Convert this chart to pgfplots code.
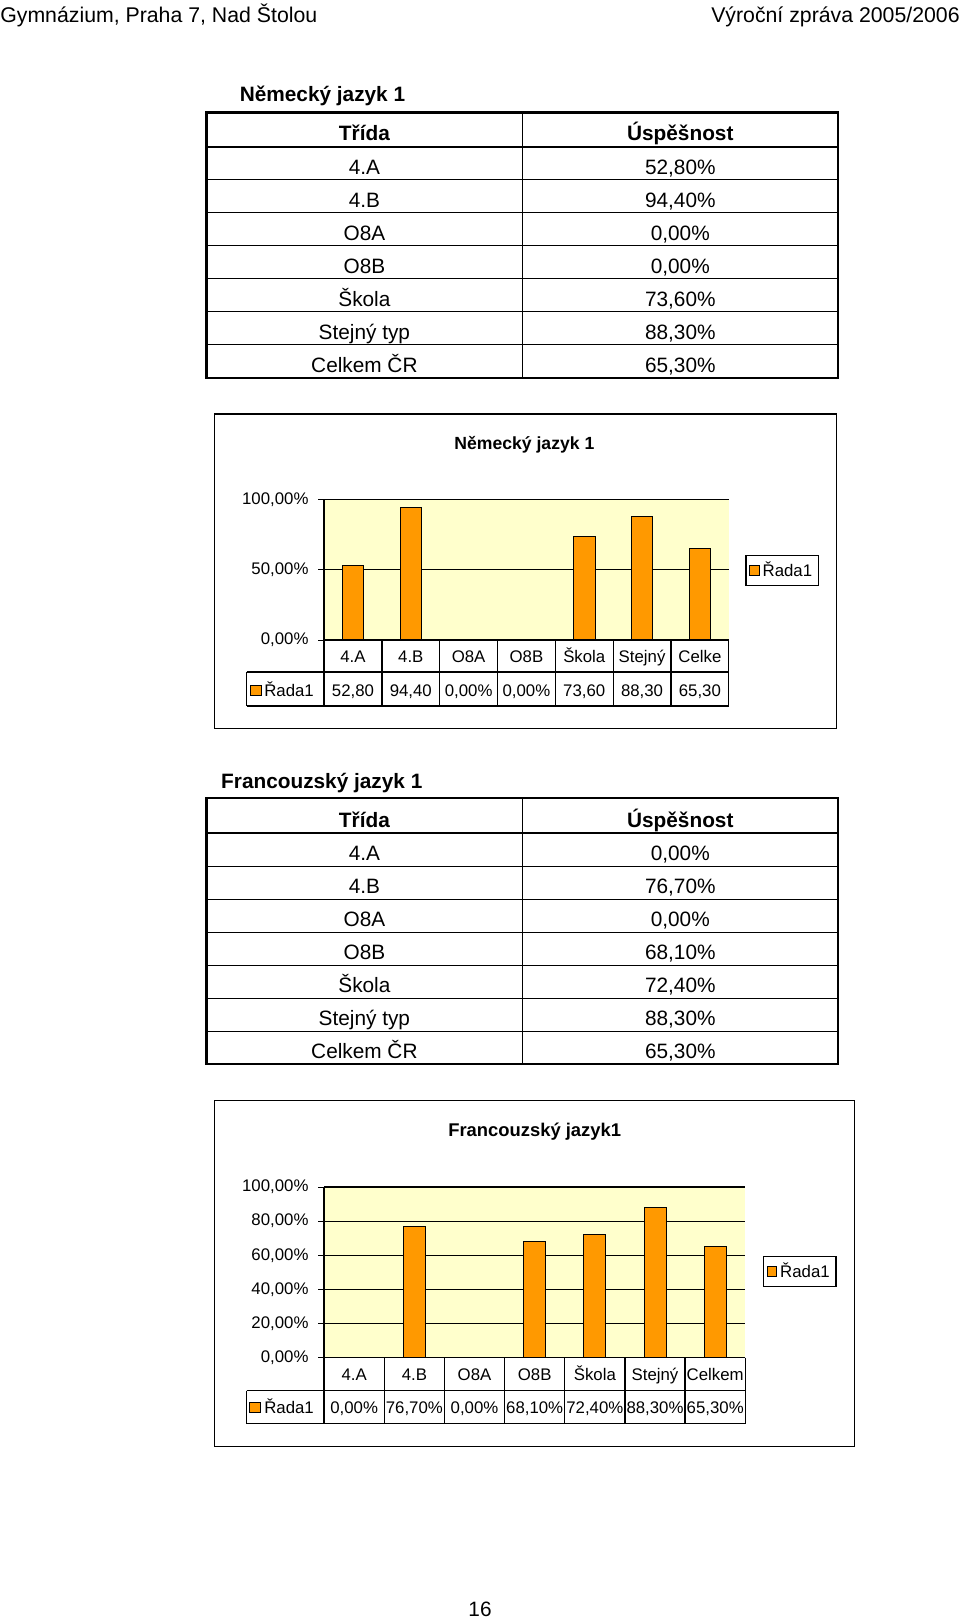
\documentclass[border=0pt]{standalone}
\usepackage{pgfplots}
\pgfplotsset{compat=1.18}
\usepackage{fontspec}
\setmainfont{Liberation Sans}
\definecolor{barorange}{HTML}{FF9900}
\definecolor{plotbg}{HTML}{FFFFCC}
\newcommand{\tabfont}{\fontsize{13}{15}\selectfont}
\newcommand{\chfont}{\fontsize{10.5}{12}\selectfont}
\pgfplotsset{
  chartstyle/.style={
    anchor=south west,
    scale only axis,
    xmin=-0.5, xmax=6.5, ymin=0, ymax=100,
    axis x line*=bottom, axis y line*=left,
    axis line style={-, black, line width=0.8pt},
    ytick style={black, line width=0.6pt},
    ytick align=outside, xtick align=inside, major tick length=3.75pt,
    yticklabel style={xshift=-2.5pt},
    xtick={0,...,6},
    xtick style={draw=none},
    tick label style={font=\chfont},
    legend style={anchor=west, draw=black, line width=0.8pt, font=\chfont, inner sep=2pt},
    legend image code/.code={\draw[fill=barorange, draw=black, line width=0.4pt] (0pt,-3pt) rectangle (6pt,3pt);},
    clip=false,
  }
}
\begin{document}
\begin{tikzpicture}
\begin{scope}[x=0.625pt,y=-0.625pt]
\useasboundingbox (0,0) rectangle (960,1619);

% page header
\node[anchor=base west, inner sep=0, font=\fontsize{13.3}{15}\selectfont] at (0,22.7) {Gymnázium, Praha 7, Nad Štolou};
\node[anchor=base east, inner sep=0, font=\fontsize{13.3}{15}\selectfont] at (960,22.7) {Výroční zpráva 2005/2006};

% ---------- Table 1 ----------
\node[anchor=base west, inner sep=0, font=\bfseries\fontsize{13}{15}\selectfont] at (239.5,101.4) {Německý jazyk 1};
\foreach \y in {179.6,212.6,245.6,278.6,311.6,344.6}
  \draw[line width=0.6pt] (206.5,\y) -- (838.2,\y);
\draw[line width=0.6pt] (522.3,112.5) -- (522.3,377.6);
\draw[line width=1.3pt] (206.5,146.6) -- (838.2,146.6);
\draw[line width=1.3pt] (206.5,112.5) rectangle (838.2,377.6);
\node[anchor=base, inner sep=0, font=\bfseries\tabfont] at (364.4,140.6) {Třída};
\node[anchor=base, inner sep=0, font=\bfseries\tabfont] at (680.3,140.6) {Úspěšnost};
\foreach \a/\b [count=\i from 0] in {4.A/{52,80\%},4.B/{94,40\%},O8A/{0,00\%},O8B/{0,00\%},Škola/{73,60\%},Stejný typ/{88,30\%},Celkem ČR/{65,30\%}}{
  \node[anchor=base, inner sep=0, font=\tabfont] at (364.4,{179.6+33*\i-5.5}) {\a};
  \node[anchor=base, inner sep=0, font=\tabfont] at (680.3,{179.6+33*\i-5.5}) {\b};
}

% ---------- Chart 1 frame, title, plot area ----------
\draw[line width=0.8pt, black] (214.7,414) rectangle (836.2,728.8);
\node[font=\bfseries\fontsize{11}{13}\selectfont] at (524.4,445) {Německý jazyk 1};
\fill[plotbg] (324.1,499.6) rectangle (728.8,640);

% ---------- Table 2 ----------
\node[anchor=base west, inner sep=0, font=\bfseries\fontsize{13}{15}\selectfont] at (220.9,788) {Francouzský jazyk 1};
\foreach \y in {866.1,899.1,932.1,965.1,998.1,1031.1}
  \draw[line width=0.6pt] (206.5,\y) -- (838.2,\y);
\draw[line width=0.6pt] (522.3,798) -- (522.3,1064.1);
\draw[line width=1.3pt] (206.5,833.1) -- (838.2,833.1);
\draw[line width=1.3pt] (206.5,798) rectangle (838.2,1064.1);
\node[anchor=base, inner sep=0, font=\bfseries\tabfont] at (364.4,827.1) {Třída};
\node[anchor=base, inner sep=0, font=\bfseries\tabfont] at (680.3,827.1) {Úspěšnost};
\foreach \a/\b [count=\i from 0] in {4.A/{0,00\%},4.B/{76,70\%},O8A/{0,00\%},O8B/{68,10\%},Škola/{72,40\%},Stejný typ/{88,30\%},Celkem ČR/{65,30\%}}{
  \node[anchor=base, inner sep=0, font=\tabfont] at (364.4,{866.1+33*\i-5.5}) {\a};
  \node[anchor=base, inner sep=0, font=\tabfont] at (680.3,{866.1+33*\i-5.5}) {\b};
}

% ---------- Chart 2 frame, title, plot area ----------
\draw[line width=0.8pt, black] (214.7,1100.4) rectangle (854.7,1446.3);
\node[font=\bfseries\fontsize{11.5}{13}\selectfont] at (534.7,1131.4) {Francouzský jazyk1};
\fill[plotbg] (324.1,1187.1) rectangle (745.3,1357.5);

% page number
\node[anchor=base, inner sep=0, font=\tabfont] at (480,1616) {16};
\end{scope}

% ---------- Chart 1 axis ----------
\begin{axis}[chartstyle,
  at={(202.5625pt,-400pt)},
  width=252.94pt, height=87.75pt,
  ytick={0,50,100}, yticklabels={{0,00\%},{50,00\%},{100,00\%}},
  xticklabels={4.A,4.B,O8A,O8B,Škola,Stejný,Celke},
  xticklabel style={anchor=base, yshift=-14.3pt, inner sep=0pt},
  legend style={at={(1.041,0.496)}},
]
\addplot[black, line width=0.8pt, sharp plot, mark=none, forget plot] coordinates {(-0.5,50) (6.5,50)};
\addplot[black, line width=0.8pt, sharp plot, mark=none, forget plot] coordinates {(-0.5,100) (6.5,100)};
\addplot[ybar, bar width=13.4pt, fill=barorange, draw=black, line width=0.6pt] coordinates {(0,52.8) (1,94.4) (2,0) (3,0) (4,73.6) (5,88.3) (6,65.3)};
\legend{Řada1}
\end{axis}

% ---------- Chart 2 axis ----------
\begin{axis}[chartstyle,
  at={(202.5625pt,-848.4375pt)},
  width=263.25pt, height=106.5pt,
  ytick={0,20,40,60,80,100}, yticklabels={{0,00\%},{20,00\%},{40,00\%},{60,00\%},{80,00\%},{100,00\%}},
  xticklabels={4.A,4.B,O8A,O8B,Škola,Stejný,Celkem},
  xticklabel style={anchor=base, yshift=-14.5pt, inner sep=0pt},
  legend style={at={(1.0418,0.506)}},
]
\addplot[black, line width=0.8pt, sharp plot, mark=none, forget plot] coordinates {(-0.5,20) (6.5,20)};
\addplot[black, line width=0.8pt, sharp plot, mark=none, forget plot] coordinates {(-0.5,40) (6.5,40)};
\addplot[black, line width=0.8pt, sharp plot, mark=none, forget plot] coordinates {(-0.5,60) (6.5,60)};
\addplot[black, line width=0.8pt, sharp plot, mark=none, forget plot] coordinates {(-0.5,80) (6.5,80)};
\addplot[black, line width=0.8pt, sharp plot, mark=none, forget plot] coordinates {(-0.5,100) (6.5,100)};
\addplot[ybar, bar width=13.8pt, fill=barorange, draw=black, line width=0.6pt] coordinates {(0,0) (1,76.7) (2,0) (3,68.1) (4,72.4) (5,88.3) (6,65.3)};
\legend{Řada1}
\end{axis}

\begin{scope}[x=0.625pt,y=-0.625pt]
% chart 1 grid lines (segments between bars)
\draw[line width=0.8pt] (324.1,499.6) -- (728.8,499.6);
\foreach \a/\b in {324.1/342.3,363.7/400.1,421.5/573.5,594.9/631.4,652.8/689.2,710.6/728.8}
  \draw[line width=0.8pt] (\a,569.8) -- (\b,569.8);
% chart 1 data table
\draw[line width=0.8pt] (324.1,640) -- (728.8,640);
\draw[line width=0.8pt] (246.7,672) -- (728.8,672);
\draw[line width=0.8pt] (246.7,706) -- (728.8,706);
\draw[line width=0.8pt] (246.7,672) -- (246.7,706);
\draw[line width=0.8pt] (324.1,640) -- (324.1,706);
\foreach \k in {1,...,7}
  \draw[line width=0.8pt] ({324.1+57.81*\k},640) -- ({324.1+57.81*\k},706);
\draw[fill=barorange, draw=black, line width=0.4pt] (250.8,685.5) rectangle (261.2,695.5);
\node[anchor=base west, inner sep=0, font=\chfont] at (264,696.6) {Řada1};
\foreach \v [count=\i from 0] in {{52,80},{94,40},{0,00\%},{0,00\%},{73,60},{88,30},{65,30}}
  \node[anchor=base, inner sep=0, font=\chfont] at ({324.1+57.81*(\i+0.5)},696.6) {\v};
% chart 2 grid lines (segments between bars)
\draw[line width=0.8pt] (324.1,1187.1) -- (745.3,1187.1);
\foreach \a/\b in {324.1/644.0,666.0/745.3}
  \draw[line width=0.8pt] (\a,1221.18) -- (\b,1221.18);
\foreach \yy in {1255.26,1289.34,1323.42}
  \foreach \a/\b in {324.1/403.4,425.4/523.7,545.7/583.9,605.9/644.0,666.0/704.2,726.2/745.3}
    \draw[line width=0.8pt] (\a,\yy) -- (\b,\yy);
% chart 2 data table
\draw[line width=0.8pt] (324.1,1357.5) -- (745.3,1357.5);
\draw[line width=0.8pt] (246.7,1390.5) -- (745.3,1390.5);
\draw[line width=0.8pt] (246.7,1423.5) -- (745.3,1423.5);
\draw[line width=0.8pt] (246.7,1390.5) -- (246.7,1423.5);
\draw[line width=0.8pt] (324.1,1357.5) -- (324.1,1423.5);
\foreach \k in {1,...,7}
  \draw[line width=0.8pt] ({324.1+60.17*\k},1357.5) -- ({324.1+60.17*\k},1423.5);
\draw[fill=barorange, draw=black, line width=0.4pt] (249.8,1402) rectangle (260.1,1412);
\node[anchor=base west, inner sep=0, font=\chfont] at (264,1413) {Řada1};
\foreach \v [count=\i from 0] in {{0,00\%},{76,70\%},{0,00\%},{68,10\%},{72,40\%},{88,30\%},{65,30\%}}
  \node[anchor=base, inner sep=0, font=\chfont] at ({324.1+60.17*(\i+0.5)},1413) {\v};
\end{scope}
\end{tikzpicture}
\end{document}
